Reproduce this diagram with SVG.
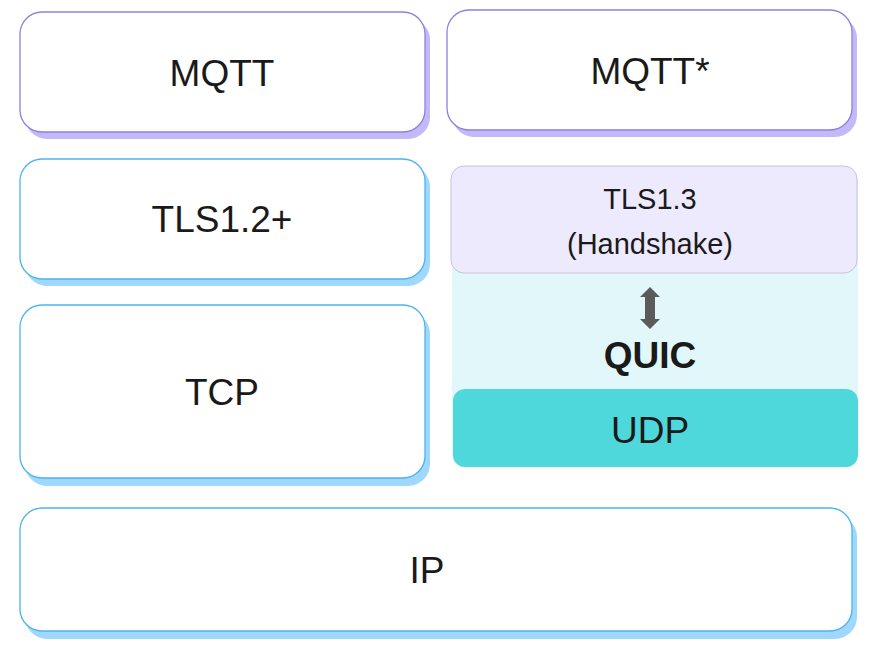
<svg xmlns="http://www.w3.org/2000/svg" width="880" height="665" viewBox="0 0 880 665">
<style>
text{font-family:"Liberation Sans",Arial,sans-serif;fill:#1a1a1a;text-anchor:middle}
.lbl{font-size:37px}
.sm{font-size:29px}
.box{fill:#ffffff;stroke-width:1.3}
.pur{stroke:#8f80e2}
.pursh{fill:#c3b9f8}
.blu{stroke:#4cb4ee}
.blush{fill:#9fd8fc}
</style>
<rect width="880" height="665" fill="#ffffff"/>
<g id="mqtt">
<rect class="pursh" x="25" y="18" width="405" height="121" rx="22"/>
<rect class="box pur" x="20" y="12" width="405" height="120" rx="22"/>
<text class="lbl" x="222" y="86">MQTT</text>
</g>
<g id="mqtt-star">
<rect class="pursh" x="452" y="16" width="405" height="121" rx="22"/>
<rect class="box pur" x="447" y="10" width="405" height="120" rx="22"/>
<text class="lbl" x="650" y="84">MQTT*</text>
</g>
<g id="tls12">
<rect class="blush" x="25" y="165" width="405" height="121" rx="22"/>
<rect class="box blu" x="20" y="159" width="405" height="120" rx="22"/>
<text class="lbl" x="222" y="232">TLS1.2+</text>
</g>
<g id="tcp">
<rect class="blush" x="25" y="312" width="405" height="174" rx="22"/>
<rect class="box blu" x="20" y="305" width="405" height="173" rx="22"/>
<text class="lbl" x="222" y="405">TCP</text>
</g>
<g id="quic">
<rect x="452" y="170" width="406" height="297" rx="12" fill="#e1f7f9"/>
<text x="650" y="368" font-size="37" font-weight="bold">QUIC</text>
</g>
<g id="tls13">
<rect x="451" y="166" width="406" height="107" rx="13" fill="#eeeafd" stroke="#c6c4d8" stroke-width="1"/>
<text class="sm" x="650" y="209">TLS1.3</text>
<text class="sm" x="650" y="254">(Handshake)</text>
</g>
<g id="udp">
<rect x="453" y="389" width="405" height="78" rx="12" fill="#4fd8dc"/>
<text class="lbl" x="650" y="443">UDP</text>
</g>
<g id="ip">
<rect class="blush" x="25" y="515" width="832" height="124" rx="22"/>
<rect class="box blu" x="20" y="508" width="832" height="123" rx="22"/>
<text class="lbl" x="427" y="583">IP</text>
</g>
<g id="connectors">
<path d="M650 287 L660 297 L655 297 L655 319 L660 319 L650 329 L640 319 L645 319 L645 297 L640 297 Z" fill="#5b5b5b"/>
</g>
</svg>
